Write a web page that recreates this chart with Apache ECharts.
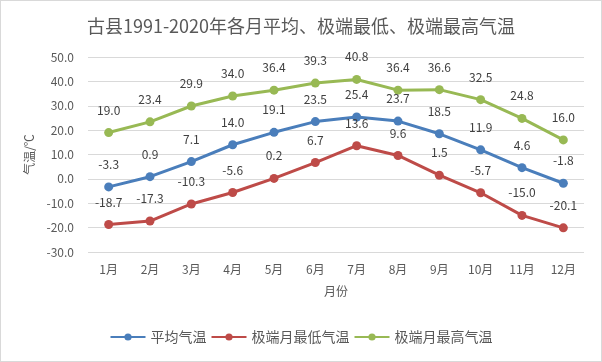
<!DOCTYPE html>
<html><head><meta charset="utf-8">
<script src="https://cdn.jsdelivr.net/npm/echarts@6/dist/echarts.min.js"></script>
<style>
html,body{margin:0;padding:0;background:#fff;}
#c{width:600px;height:360px;border:1px solid #d9d9d9;}
</style></head><body>
<div id="c"></div>
<script>
const categories = ['1月','2月','3月','4月','5月','6月','7月','8月','9月','10月','11月','12月'];
const avgTemp = [-3.3, 0.9, 7.1, 14.0, 19.1, 23.5, 25.4, 23.7, 18.5, 11.9, 4.6, -1.8];
const minTemp = [-18.7, -17.3, -10.3, -5.6, 0.2, 6.7, 13.6, 9.6, 1.5, -5.7, -15.0, -20.1];
const maxTemp = [19.0, 23.4, 29.9, 34.0, 36.4, 39.3, 40.8, 36.4, 36.6, 32.5, 24.8, 16.0];
const seriesNames = ['平均气温','极端月最低气温','极端月最高气温'];
const colors = ['#4a7ebb','#be4b48','#98b954'];
const font = '"Noto Sans CJK SC", sans-serif';

const chart = echarts.init(document.getElementById('c'));
function mk(name, data, color){
  return {
    name, type:'line', data, color,
    symbol:'circle', symbolSize:9,
    lineStyle:{width:3, color},
    itemStyle:{color},
    label:{show:true, position:'top', distance:12, color:'#404040', fontSize:12, fontFamily:font,
      formatter:p=>p.value.toFixed(1)},
    z: 3
  };
}
chart.setOption({
  animation:false,
  title:{text:'古县1991-2020年各月平均、极端最低、极端最高气温', left:'center', top:11,
    textStyle:{fontSize:18, fontWeight:'normal', color:'#595959', fontFamily:font}},
  grid:{left:87, right:17, top:56, bottom:109},
  legend:{bottom:12, left:'center', itemWidth:35, itemHeight:9, itemGap:4,
    textStyle:{fontSize:14, color:'#595959', fontFamily:font},
    data:seriesNames},
  xAxis:{type:'category', data:categories, boundaryGap:true,
    name:'月份', nameLocation:'middle', nameGap:33,
    nameTextStyle:{fontSize:12, color:'#595959', fontFamily:font},
    axisLine:{show:false}, axisTick:{show:false},
    axisLabel:{fontSize:12, color:'#595959', fontFamily:font, margin:11}},
  yAxis:{type:'value', min:-30, max:50, interval:10,
    name:'气温/℃', nameLocation:'middle', nameGap:52, nameRotate:90,
    nameTextStyle:{fontSize:12, color:'#595959', fontFamily:font},
    axisLine:{show:false}, axisTick:{show:false},
    axisLabel:{fontSize:12, color:'#595959', fontFamily:font, margin:14, formatter:v=>v.toFixed(1)},
    splitLine:{lineStyle:{color:'#d9d9d9', width:1}}},
  series:[mk(seriesNames[0], avgTemp, colors[0]), mk(seriesNames[1], minTemp, colors[1]), mk(seriesNames[2], maxTemp, colors[2])]
});
</script></body></html>
